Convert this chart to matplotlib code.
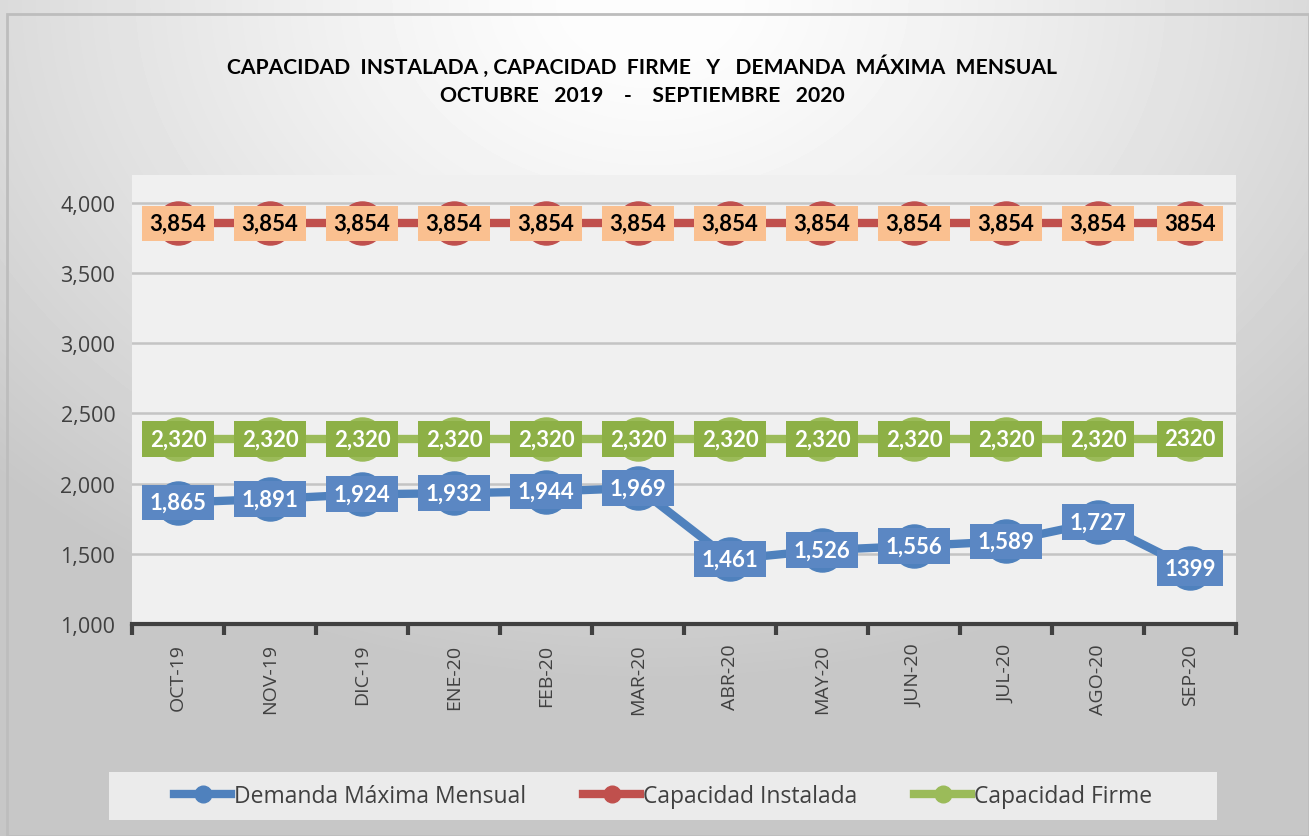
import numpy as np
import matplotlib
matplotlib.use("Agg")
import matplotlib.pyplot as plt
from matplotlib.patches import Rectangle
from matplotlib.lines import Line2D

months = ["OCT-19", "NOV-19", "DIC-19", "ENE-20", "FEB-20", "MAR-20",
          "ABR-20", "MAY-20", "JUN-20", "JUL-20", "AGO-20", "SEP-20"]
demanda = [1865, 1891, 1924, 1932, 1944, 1969, 1461, 1526, 1556, 1589, 1727, 1399]
instalada = [3854] * 12
firme = [2320] * 12
demanda_labels = ["1,865", "1,891", "1,924", "1,932", "1,944", "1,969",
                  "1,461", "1,526", "1,556", "1,589", "1,727", "1399"]
instalada_labels = ["3,854"] * 11 + ["3854"]
firme_labels = ["2,320"] * 11 + ["2320"]
yticks = [1000, 1500, 2000, 2500, 3000, 3500, 4000]
ytick_labels = ["1,000", "1,500", "2,000", "2,500", "3,000", "3,500", "4,000"]

W, H = 1309, 837
fig = plt.figure(figsize=(W / 100, H / 100), dpi=100)

# background gradient
bg = fig.add_axes([0, 0, 1, 1])
yy, xx = np.mgrid[0:H, 0:W]
d = np.sqrt(((xx - 650) / 1000.0) ** 2 + ((yy - 0) / 750.0) ** 2)
val = np.clip(1.0 - 0.25 * d ** 1.3, 0.78, 0.99)
bg.imshow(val, cmap="gray", vmin=0, vmax=1, extent=[0, W, H, 0], aspect="auto")
bg.set_xlim(0, W)
bg.set_ylim(H, 0)
bg.axis("off")
bg.add_patch(Rectangle((7, 15), W - 7, H - 15, fill=False, edgecolor="#bdbdbd", lw=2))
# legend background
bg.add_patch(Rectangle((109, 773), 1108, 48, facecolor="#ebebeb", edgecolor="none"))

title_font = ["Liberation Sans Narrow", "Lato", "DejaVu Sans"]
bg.text(642, 67, "CAPACIDAD  INSTALADA , CAPACIDAD  FIRME   Y   DEMANDA  MÁXIMA  MENSUAL",
        ha="center", va="center", fontsize=15.2, fontweight="bold", family=title_font, color="black")
bg.text(642, 96, "OCTUBRE   2019    -    SEPTIEMBRE   2020",
        ha="center", va="center", fontsize=15.2, fontweight="bold", family=title_font, color="black")

ax = fig.add_axes([132 / W, (H - 625) / H, 1104 / W, 449 / H])
ax.set_facecolor("#f0f0f0")
x = np.arange(len(months))
ymax = 1000 + 3000 * 449 / 421
ax.set_xlim(-0.5, len(months) - 0.5)
ax.set_ylim(1000, ymax)

for v in yticks[1:]:
    ax.axhline(v, color="#c4c4c4", lw=1.8, zorder=1)

blue, red, green = "#4f81bd", "#c0504d", "#9bbb59"
ms = 31
ax.plot(x, instalada, color=red, lw=6, marker="o", ms=ms, zorder=3, solid_capstyle="butt")
ax.plot(x, firme, color=green, lw=6, marker="o", ms=ms, zorder=3, solid_capstyle="butt")
ax.plot(x, demanda, color=blue, lw=6, marker="o", ms=ms, zorder=3, solid_capstyle="butt")

lab_font = ["Lato", "DejaVu Sans"]
def labels(vals, texts, fc, tc):
    for xi, v, t in zip(x, vals, texts):
        ax.text(xi, v, t, ha="center", va="center", fontsize=16, fontweight="bold",
                family=lab_font, color=tc, zorder=5,
                bbox=dict(boxstyle="square,pad=0.33", facecolor=fc, edgecolor="none"))

labels(instalada, instalada_labels, "#fac090", "black")
labels(firme, firme_labels, "#8db046", "white")
labels(demanda, demanda_labels, "#5b87c3", "white")

for s in ["top", "right", "left"]:
    ax.spines[s].set_visible(False)
ax.spines["bottom"].set_color("#404040")
ax.spines["bottom"].set_linewidth(3)

ax.set_yticks(yticks)
ax.set_yticklabels(ytick_labels)
ax.tick_params(axis="y", length=0, pad=12, labelsize=15.5, labelcolor="#404040")
for t in ax.get_yticklabels():
    t.set_family(["Open Sans", "DejaVu Sans"])

ax.set_xticks(x)
ax.set_xticklabels(months, rotation=90)
ax.tick_params(axis="x", length=0, pad=14, labelsize=14, labelcolor="#404040")
for t in ax.get_xticklabels():
    t.set_family(["Open Sans", "DejaVu Sans"])
ax.set_xticks(np.arange(-0.5, len(months)), minor=True)
ax.tick_params(axis="x", which="minor", length=8, width=3, color="#404040", direction="out")

handles = [Line2D([], [], color=c, lw=6, marker="o", ms=12) for c in (blue, red, green)]
leg = fig.legend(handles, ["Demanda Máxima Mensual", "Capacidad Instalada", "Capacidad Firme"],
                 loc="center", bbox_to_anchor=(663 / W, 1 - 797 / H), ncol=3, frameon=False,
                 handlelength=2.5, handletextpad=0.1, columnspacing=2.5,
                 prop={"family": ["Open Sans", "DejaVu Sans"], "size": 16.5})
for t in leg.get_texts():
    t.set_color("#404040")

fig.savefig("out.png", dpi=100)
